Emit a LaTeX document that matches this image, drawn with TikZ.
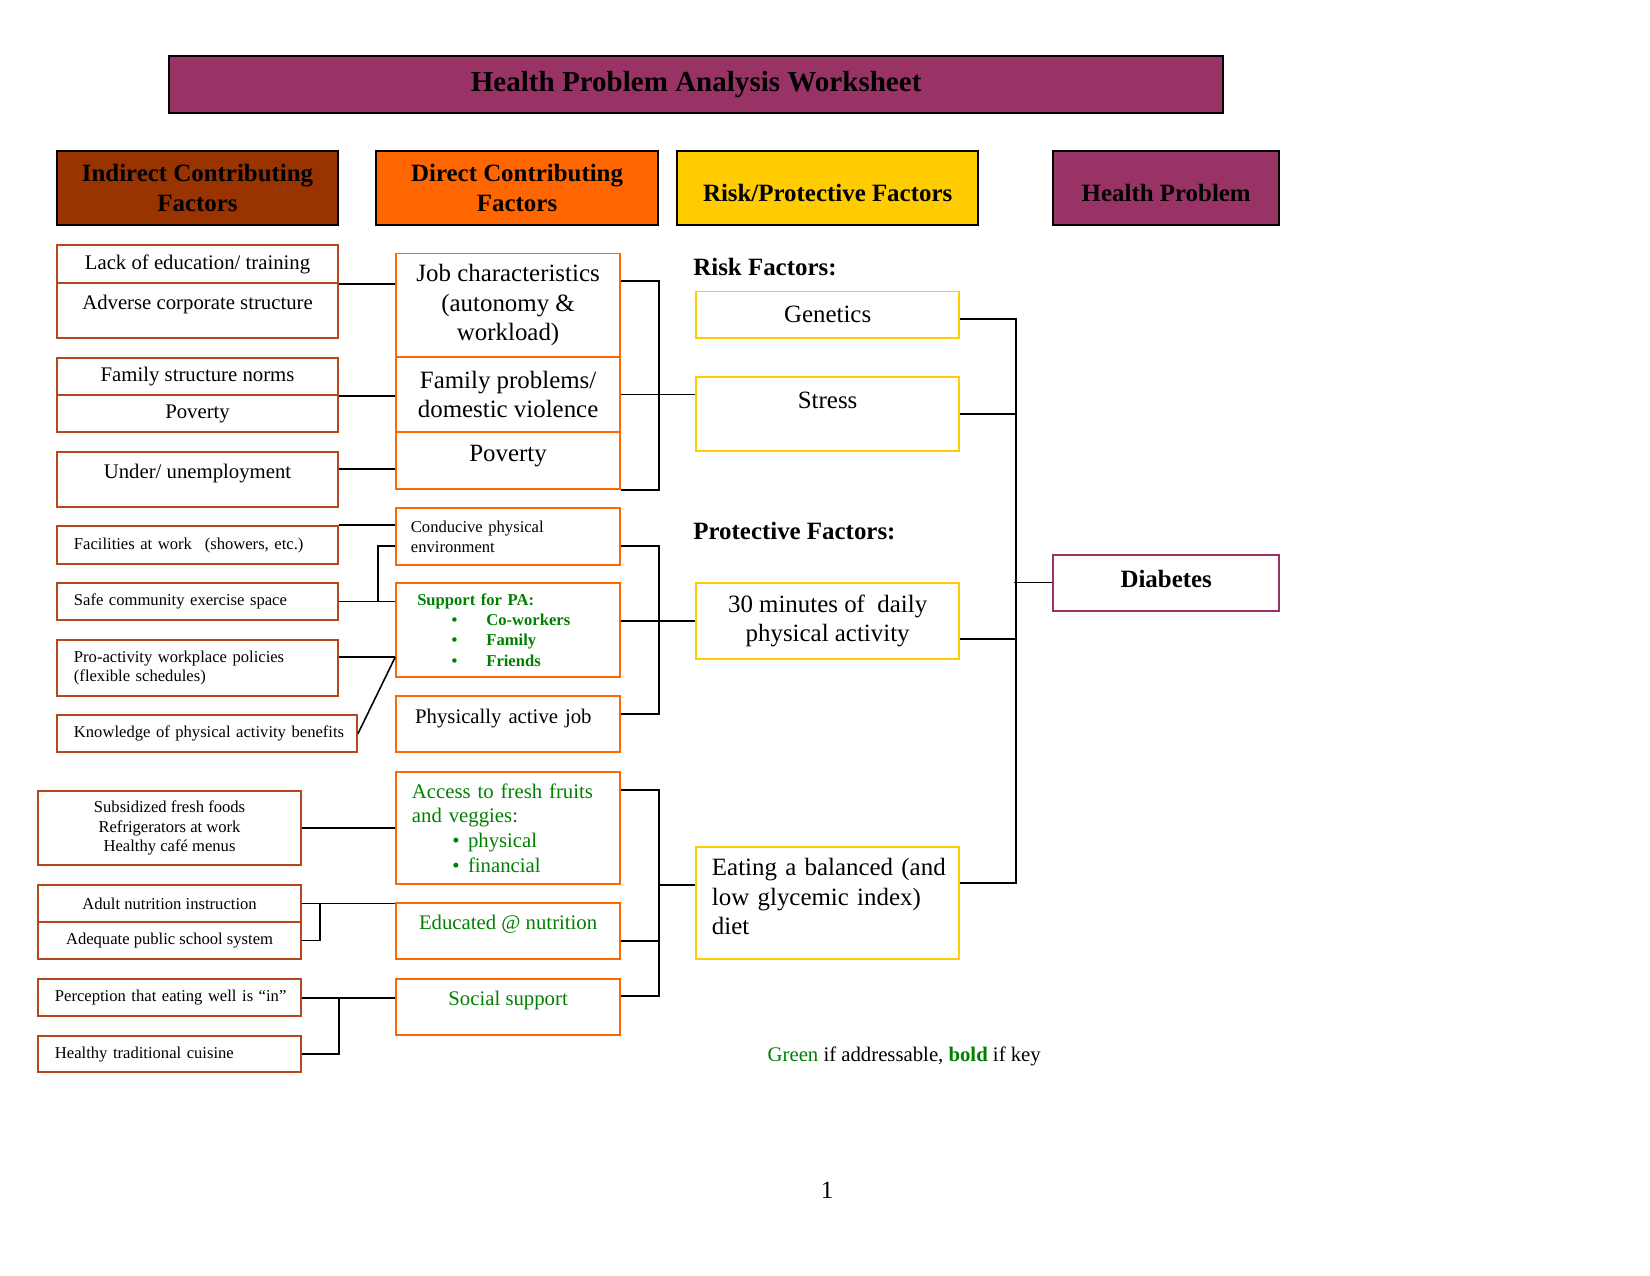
\documentclass[tikz,border=0pt]{standalone}
\usepackage{fontspec}
\setmainfont{Liberation Serif}
\usepackage{tikz}
\usetikzlibrary{calc,positioning}
\definecolor{myplum}{RGB}{153,51,102}
\definecolor{myrust}{RGB}{153,51,0}
\definecolor{myrustline}{RGB}{178,72,28}
\definecolor{myorange}{RGB}{255,102,0}
\definecolor{mygold}{RGB}{255,204,0}
\definecolor{mygreen}{RGB}{0,128,0}
\newcommand{\pxu}{0.509pt}
\newcommand{\fsmall}{\fontsize{8}{9.4}\selectfont}
\newcommand{\fmid}{\fontsize{10}{12}\selectfont}
\newcommand{\fbig}{\fontsize{12}{14.2}\selectfont}
\newcommand{\fhuge}{\fontsize{14}{16.8}\selectfont}
\newcommand{\pabul}[1]{\hspace*{16.5pt}\textbullet\hspace{14pt}#1}
\newcommand{\acbul}[1]{\hspace*{19.5pt}\textbullet\hspace{4pt}#1}

\begin{document}
\begin{tikzpicture}[x=\pxu, y=-\pxu,
  sz/.style 2 args={minimum width=#1*\pxu, minimum height=#2*\pxu},
  lpad/.style 2 args={text width=#1*\pxu-2*#2*\pxu, inner xsep=#2*\pxu, align=left},
  hdbox/.style={draw=black, line width=1pt, inner sep=0pt, align=center, font=\fbig\bfseries},
  ibox/.style={draw=myrustline, line width=0.9pt, inner sep=0pt, align=center},
  dbox/.style={draw=myorange, line width=0.9pt, inner sep=0pt, align=center},
  rbox/.style={draw=mygold, line width=0.9pt, inner sep=0pt, align=center},
  addr/.style={text=mygreen},
  wire/.style={line width=0.75pt}
]
\useasboundingbox (0,0) rectangle (1562,1207);

% title and column heads
\node[hdbox, fill=myplum, sz={998}{54}, font=\fhuge\bfseries] (title) at (659,80) {Health Problem Analysis Worksheet};
\node[hdbox, fill=myrust, sz={266}{70}] (indhd) at (187,178) {Indirect Contributing\\Factors};
\node[hdbox, fill=myorange, sz={267}{70}] (dirhd) at (489.5,178) {Direct Contributing\\Factors};
\node[hdbox, fill=mygold, sz={285}{70}, text height=13.5pt] (riskhd) at (783.5,178) {Risk/Protective Factors};
\node[hdbox, fill=myplum, sz={214}{70}, text height=13.5pt] (probhd) at (1104,178) {Health Problem};

% indirect contributing factors
\node[ibox, sz={266}{36}, font=\fmid] (lack) at (187,250) {Lack of education/ training};
\node[ibox, sz={266}{52}, font=\fmid, text depth=8pt] (adverse) at (187,294) {Adverse corporate structure};
\node[ibox, sz={266}{35}, font=\fmid] (norms) at (187,356.5) {Family structure norms};
\node[ibox, sz={266}{35}, font=\fmid] (povind) at (187,391.5) {Poverty};
\node[ibox, sz={266}{52}, font=\fmid, text depth=8pt] (unemp) at (187,454) {Under/ unemployment};
\node[ibox, lpad={266}{16}, minimum height=36*\pxu, font=\fsmall] (facil) at (187,516) {Facilities at work\hspace{3.5pt} (showers, etc.)};
\node[ibox, lpad={266}{16}, minimum height=35*\pxu, font=\fsmall] (safe) at (187,569.5) {Safe community exercise space};
\node[ibox, lpad={266}{16}, minimum height=53*\pxu, font=\fsmall] (proact) at (187,632.5) {Pro-activity workplace policies\\(flexible schedules)};
\node[ibox, lpad={284}{16}, minimum height=35*\pxu, font=\fsmall] (knowl) at (196,694.5) {\mbox{Knowledge of physical activity benefits}};
\node[ibox, sz={249}{70}, font=\fsmall] (subsid) at (160.5,784) {Subsidized fresh foods\\Refrigerators at work\\Healthy café menus};
\node[ibox, sz={249}{35}, font=\fsmall] (adult) at (160.5,855.5) {Adult nutrition instruction};
\node[ibox, sz={249}{35}, font=\fsmall] (adequ) at (160.5,890.5) {Adequate public school system};
\node[ibox, lpad={249}{16}, minimum height=35*\pxu, font=\fsmall] (percep) at (160.5,944.5) {\mbox{Perception that eating well is ``in''}};
\node[ibox, lpad={249}{16}, minimum height=34*\pxu, font=\fsmall] (cuisine) at (160.5,998) {Healthy traditional cuisine};

% direct contributing factors
\node[dbox, sz={212}{98}, font=\fbig] (job) at (481,289) {Job characteristics\\(autonomy \&\\workload)};
\node[dbox, sz={212}{71}, font=\fbig] (famprob) at (481,373.5) {Family problems/\\domestic violence};
\node[dbox, sz={212}{54}, font=\fbig, text depth=6.6pt] (povdir) at (481,436) {Poverty};
\node[dbox, lpad={212}{14}, minimum height=54*\pxu, font=\fsmall] (conduc) at (481,508) {Conducive physical\\environment};
\node[dbox, lpad={212}{20}, minimum height=89*\pxu, font=\fontsize{8}{9.7}\selectfont\bfseries, addr] (support) at (481,596.5) {Support for PA:\\\pabul{Co-workers}\\\pabul{Family}\\\pabul{Friends}};
\node[dbox, lpad={212}{18}, minimum height=53*\pxu, font=\fmid, text depth=7.3pt] (active) at (481,685.5) {Physically active job};
\node[dbox, lpad={212}{15}, minimum height=106*\pxu, font=\fmid, addr] (access) at (481,784) {Access to fresh fruits\\and veggies:\\\acbul{physical}\\\acbul{financial}};
\node[dbox, sz={212}{53}, font=\fmid, addr, text depth=8.6pt] (educ) at (481,881.5) {Educated @ nutrition};
\node[dbox, sz={212}{53}, font=\fmid, addr, text depth=8.8pt] (social) at (481,953.5) {Social support};

% risk / protective factors
\node[font=\fbig\bfseries, anchor=west, inner sep=0pt] (risklbl) at (656,253) {Risk Factors:};
\node[rbox, sz={249}{44}, font=\fbig] (genet) at (783.5,298) {Genetics};
\node[rbox, sz={249}{70}, font=\fbig, text depth=13.3pt] (stress) at (783.5,392) {Stress};
\node[font=\fbig\bfseries, anchor=west, inner sep=0pt] (protlbl) at (656,503) {Protective Factors:};
\node[rbox, sz={249}{72}, font=\fbig] (thirty) at (783.5,588) {30 minutes of\ \ daily\\physical activity};
\node[rbox, lpad={249}{15}, minimum height=106*\pxu, font=\fbig, text depth=34.6pt] (eating) at (783.5,855) {\mbox{Eating a balanced (and}\\low glycemic index)\\diet};

% the health problem
\node[draw=myplum, line width=0.9pt, sz={214}{53}, font=\fbig\bfseries, text depth=3.6pt] (diab) at (1104,551.5) {Diabetes};

\node[font=\fmid] (legend) at (856,1000) {{\color{mygreen}Green} if addressable, {\color{mygreen}\bfseries bold} if key};
\node[font=\fbig] (pagenum) at (783,1127) {1};

% helper points on the box sides
\coordinate (u1) at ($(unemp.north east)+(0,17)$);
\coordinate (p1) at ($(proact.north east)+(0,17)$);
\coordinate (c1) at ($(conduc.south west)+(0,-19)$);
\coordinate (c2) at ($(conduc.south east)+(0,-19)$);
\coordinate (j1) at ($(job.north east)+(0,27)$);
\coordinate (a1) at ($(active.north east)+(0,18)$);
\coordinate (f1) at ($(access.north east)+(0,18)$);
\coordinate (e1) at ($(educ.south east)+(0,-18)$);
\coordinate (s1) at ($(social.north east)+(0,17)$);
\coordinate (g1) at ($(genet.east)+(0,4)$);
\coordinate (t1) at ($(thirty.east)+(0,17)$);
\coordinate (d1) at ($(eating.north east)+(0,35)$);

% indirect to direct
\draw[wire] (lack.south east) -- (lack.south east -| job.west);
\draw[wire] (norms.south east) -- (norms.south east -| famprob.west);
\draw[wire] (u1) -- (u1 -| povdir.west);
\draw[wire] (facil.north east) -- (facil.north east -| conduc.west);
\draw[wire] (safe.east) -- (safe.east -| support.west);
\draw[wire] (c1) -| ($(safe.east)+(37,0)$);
\draw[wire] (p1) -- (p1 -| support.west);
\draw[wire] (knowl.east) -- (p1 -| support.west);
\draw[wire] (subsid.east) -- (subsid.east -| access.west);
\draw[wire] (adult.east) -- (adult.east -| educ.west);
\draw[wire] (adequ.east) -- ++(17,0) |- (adult.east);
\draw[wire] (percep.east) -- (percep.east -| social.west);
\draw[wire] (cuisine.east) -- ++(35,0) |- (percep.east);

% direct to risk
\draw[wire] (j1) -- ++(36,0) |- (povdir.south east);
\draw[wire] (famprob.east) -- (famprob.east -| stress.west);
\draw[wire] (c2) -- ++(36,0) |- (a1);
\draw[wire] (support.east |- thirty.west) -- (thirty.west);
\draw[wire] (f1) -- ++(36,0) |- (s1);
\draw[wire] (e1) -- ++(36,0);
\draw[wire] ($(access.south east)+(36,0)$) -- (access.south east -| eating.west);

% risk to problem
\draw[wire] (g1) -- ++(53,0) |- (d1);
\draw[wire] (stress.east) -- ++(53,0);
\draw[wire] (t1) -- ++(53,0);
\draw[wire] (diab.west) -- ++(-36,0);
\end{tikzpicture}
\end{document}
